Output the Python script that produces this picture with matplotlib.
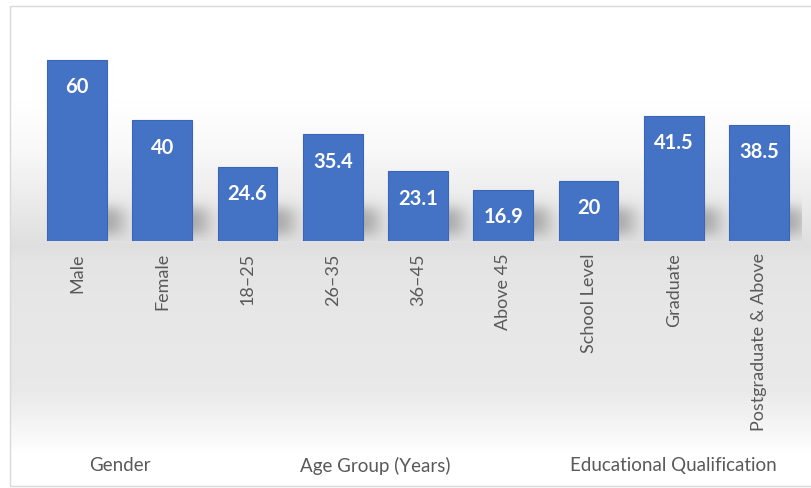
import numpy as np
import matplotlib
matplotlib.use('Agg')
import matplotlib.pyplot as plt
import matplotlib.transforms as mtransforms
from matplotlib.patches import Rectangle

plt.rcParams['font.family'] = ['Lato', 'DejaVu Sans']

categories = ['Male', 'Female', '18–25', '26–35', '36–45', 'Above 45',
              'School Level', 'Graduate', 'Postgraduate & Above']
values = [60, 40, 24.6, 35.4, 23.1, 16.9, 20, 41.5, 38.5]
groups = ['Gender', 'Age Group (Years)', 'Educational Qualification']
group_members = [[0, 1], [2, 3, 4, 5], [6, 7, 8]]

BAR = '#4472C4'
TEXT = '#595959'
YMAX = 65

fig = plt.figure(figsize=(8.12, 4.89), dpi=100)
fig.patch.set_facecolor('white')

# soft grey band around the baseline, white at the top and bottom
bg = fig.add_axes([10 / 812, 2 / 489, 1 - 10 / 812, 1 - 9 / 489])
bg.axis('off')
rows = np.linspace(0, 1, 600)          # 0 = top, 1 = bottom
stops = [0.0, 0.20, 0.30, 0.45, 0.50, 0.53, 0.62, 0.80, 0.90, 0.93, 1.0]
level = [1.0, 1.0, 0.975, 0.90, 0.875, 0.895, 0.905, 0.915, 0.975, 1.0, 1.0]
shade = np.interp(rows, stops, level)
grad = np.repeat(shade[:, None], 2, axis=1)
bg.imshow(np.dstack([grad, grad, grad]), extent=[0, 1, 0, 1], aspect='auto',
          interpolation='bilinear')
bg.set_xlim(0, 1)
bg.set_ylim(0, 1)

ax = fig.add_axes([0.0424, 0.505, 0.9448, 0.401])
ax.patch.set_alpha(0)
x = np.arange(len(values))

# blurred drop shadows trailing off to the right of each bar's base
gx = np.linspace(-0.5, 8.5, 770)
gy = np.linspace(0, YMAX, 196)
X, Y = np.meshgrid(gx, gy)
mask = np.zeros_like(X)
for i, v in enumerate(values):
    top = min(v, 11)
    mask[(X > i + 0.15) & (X < i + 0.52) & (Y > 2) & (Y < top)] = 1.0


def blur(a, sigma, axis):
    r = int(sigma * 3)
    k = np.exp(-0.5 * (np.arange(-r, r + 1) / sigma) ** 2)
    k /= k.sum()
    return np.apply_along_axis(lambda m: np.convolve(m, k, mode='same'), axis, a)


mask = blur(blur(mask, 9, 1), 6, 0)
shadow = np.zeros(X.shape + (4,))
shadow[..., :3] = 0.40
shadow[..., 3] = 0.50 * mask
ax.imshow(shadow, extent=[-0.5, 8.5, 0, YMAX], origin='lower', aspect='auto',
          interpolation='bilinear', zorder=1)

ax.bar(x, values, width=0.70, color=BAR, edgecolor='#3B65B5', linewidth=0.8,
       zorder=2)
for i, v in enumerate(values):
    ax.annotate(f'{v:g}', (i, v), xytext=(0, -19), textcoords='offset points',
                ha='center', va='center', color='white', fontsize=14.5,
                fontweight='bold', zorder=3)

ax.set_xlim(-0.5, 8.5)
ax.set_ylim(0, YMAX)
ax.set_yticks([])
ax.set_xticks(x)
ax.set_xticklabels(categories, rotation=90, va='top', ha='center')
ax.tick_params(axis='x', length=0, pad=8, labelsize=13, colors=TEXT)
for s in ax.spines.values():
    s.set_visible(False)

# group captions under the category labels
trans = mtransforms.blended_transform_factory(ax.transData, fig.transFigure)
for name, members in zip(groups, group_members):
    ax.text(np.mean(members), 1 - 466 / 489, name, transform=trans,
            ha='center', va='center', fontsize=13.5, color=TEXT)

fig.patches.append(Rectangle((10 / 812, 2 / 489), 1, 1 - 9 / 489,
                             transform=fig.transFigure, fill=False,
                             edgecolor='#D9D9D9', linewidth=1))

fig.savefig('out.png', dpi=100)
